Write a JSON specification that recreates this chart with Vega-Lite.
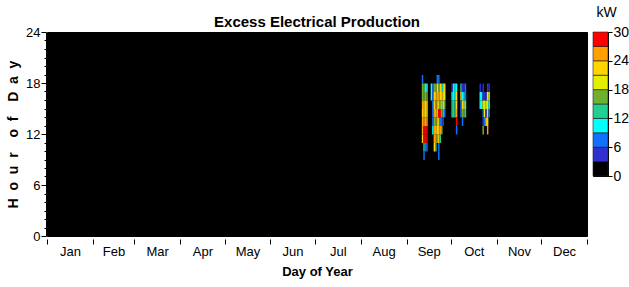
{
  "$schema": "https://vega.github.io/schema/vega-lite/v6.json",
  "autosize": {"type": "pad"},
  "padding": {"left": 6, "top": 5, "right": 1, "bottom": 2},
  "background": "white",
  "spacing": 6,
  "bounds": "flush",
  "config": {
    "view": {"fill": "black", "stroke": "black"},
    "font": "Liberation Sans",
    "axis": {"labelColor": "black", "titleColor": "black", "tickColor": "black", "domainColor": "black", "grid": false},
    "title": {"color": "black"}
  },
  "resolve": {"scale": {"x": "independent", "y": "independent", "color": "shared"}},
  "hconcat": [
    {
      "width": 540,
      "height": 204,
      "title": {"text": "Excess Electrical Production", "fontSize": 15, "fontWeight": "bold", "offset": 1, "dy": 5, "anchor": "middle", "frame": "group"},
      "data": {"values": [
        {"d":253,"h":18,"kW":7.5},{"d":253,"h":17,"kW":16.5},{"d":253,"h":16,"kW":16.5},{"d":253,"h":15,"kW":25.5},{"d":253,"h":14,"kW":22.5},{"d":253,"h":13,"kW":25.5},{"d":253,"h":12,"kW":25.5},{"d":253,"h":11,"kW":22.5},
        {"d":254,"h":17,"kW":16.5},{"d":254,"h":16,"kW":16.5},{"d":254,"h":15,"kW":22.5},{"d":254,"h":14,"kW":22.5},{"d":254,"h":13,"kW":25.5},{"d":254,"h":12,"kW":28.5},{"d":254,"h":11,"kW":28.5},{"d":254,"h":10,"kW":13.5},{"d":254,"h":9,"kW":7.5},
        {"d":255,"h":17,"kW":10.5},{"d":255,"h":16,"kW":16.5},{"d":255,"h":15,"kW":22.5},{"d":255,"h":14,"kW":22.5},{"d":255,"h":13,"kW":25.5},{"d":255,"h":12,"kW":28.5},{"d":255,"h":11,"kW":28.5},{"d":255,"h":10,"kW":7.5},
        {"d":256,"h":17,"kW":10.5},{"d":256,"h":16,"kW":16.5},{"d":256,"h":15,"kW":22.5},{"d":256,"h":14,"kW":22.5},{"d":256,"h":13,"kW":25.5},{"d":256,"h":12,"kW":28.5},{"d":256,"h":11,"kW":28.5},{"d":256,"h":10,"kW":7.5},
        {"d":259,"h":17,"kW":10.5},{"d":259,"h":16,"kW":10.5},
        {"d":260,"h":17,"kW":7.5},{"d":260,"h":16,"kW":7.5},{"d":260,"h":15,"kW":7.5},{"d":260,"h":14,"kW":7.5},{"d":260,"h":13,"kW":7.5},{"d":260,"h":12,"kW":10.5},
        {"d":261,"h":17,"kW":16.5},{"d":261,"h":16,"kW":22.5},{"d":261,"h":15,"kW":22.5},{"d":261,"h":14,"kW":25.5},{"d":261,"h":13,"kW":16.5},{"d":261,"h":12,"kW":25.5},{"d":261,"h":11,"kW":25.5},{"d":261,"h":10,"kW":22.5},
        {"d":262,"h":17,"kW":16.5},{"d":262,"h":16,"kW":22.5},{"d":262,"h":15,"kW":16.5},{"d":262,"h":14,"kW":22.5},{"d":262,"h":13,"kW":16.5},{"d":262,"h":12,"kW":22.5},{"d":262,"h":11,"kW":25.5},{"d":262,"h":10,"kW":13.5},
        {"d":263,"h":18,"kW":7.5},{"d":263,"h":17,"kW":22.5},{"d":263,"h":16,"kW":25.5},{"d":263,"h":15,"kW":25.5},{"d":263,"h":14,"kW":25.5},{"d":263,"h":13,"kW":25.5},{"d":263,"h":12,"kW":22.5},{"d":263,"h":11,"kW":16.5},
        {"d":264,"h":18,"kW":7.5},{"d":264,"h":17,"kW":16.5},{"d":264,"h":16,"kW":25.5},{"d":264,"h":15,"kW":22.5},{"d":264,"h":14,"kW":28.5},{"d":264,"h":13,"kW":22.5},{"d":264,"h":12,"kW":22.5},{"d":264,"h":11,"kW":22.5},{"d":264,"h":10,"kW":7.5},{"d":264,"h":9,"kW":7.5},
        {"d":265,"h":17,"kW":22.5},{"d":265,"h":16,"kW":22.5},{"d":265,"h":15,"kW":16.5},{"d":265,"h":14,"kW":28.5},{"d":265,"h":13,"kW":7.5},{"d":265,"h":12,"kW":25.5},{"d":265,"h":11,"kW":13.5},
        {"d":266,"h":17,"kW":10.5},{"d":266,"h":16,"kW":22.5},{"d":266,"h":15,"kW":10.5},{"d":266,"h":14,"kW":16.5},{"d":266,"h":13,"kW":7.5},{"d":266,"h":12,"kW":16.5},
        {"d":267,"h":17,"kW":10.5},{"d":267,"h":16,"kW":22.5},{"d":267,"h":15,"kW":22.5},{"d":267,"h":14,"kW":16.5},{"d":267,"h":13,"kW":4.5},
        {"d":268,"h":17,"kW":22.5},{"d":268,"h":16,"kW":19.5},{"d":268,"h":15,"kW":16.5},{"d":268,"h":14,"kW":7.5},
        {"d":273,"h":17,"kW":4.5},{"d":273,"h":16,"kW":10.5},{"d":273,"h":15,"kW":13.5},{"d":273,"h":14,"kW":13.5},
        {"d":274,"h":17,"kW":10.5},{"d":274,"h":16,"kW":10.5},{"d":274,"h":15,"kW":13.5},{"d":274,"h":14,"kW":13.5},
        {"d":275,"h":17,"kW":10.5},{"d":275,"h":16,"kW":10.5},{"d":275,"h":15,"kW":13.5},{"d":275,"h":14,"kW":13.5},
        {"d":276,"h":17,"kW":10.5},{"d":276,"h":16,"kW":22.5},{"d":276,"h":15,"kW":22.5},{"d":276,"h":14,"kW":25.5},{"d":276,"h":13,"kW":28.5},{"d":276,"h":12,"kW":7.5},
        {"d":279,"h":17,"kW":13.5},{"d":279,"h":16,"kW":22.5},{"d":279,"h":15,"kW":7.5},{"d":279,"h":14,"kW":7.5},
        {"d":280,"h":17,"kW":4.5},{"d":280,"h":16,"kW":10.5},{"d":280,"h":15,"kW":22.5},{"d":280,"h":14,"kW":16.5},{"d":280,"h":13,"kW":7.5},
        {"d":281,"h":17,"kW":4.5},{"d":281,"h":16,"kW":10.5},{"d":281,"h":15,"kW":22.5},{"d":281,"h":14,"kW":16.5},
        {"d":282,"h":17,"kW":7.5},{"d":282,"h":16,"kW":7.5},{"d":282,"h":15,"kW":10.5},{"d":282,"h":14,"kW":13.5},
        {"d":292,"h":17,"kW":4.5},{"d":292,"h":16,"kW":10.5},{"d":292,"h":15,"kW":10.5},
        {"d":293,"h":16,"kW":10.5},{"d":293,"h":15,"kW":10.5},
        {"d":294,"h":17,"kW":4.5},{"d":294,"h":16,"kW":4.5},{"d":294,"h":15,"kW":19.5},{"d":294,"h":14,"kW":7.5},{"d":294,"h":13,"kW":4.5},{"d":294,"h":12,"kW":16.5},
        {"d":295,"h":16,"kW":4.5},{"d":295,"h":15,"kW":19.5},{"d":295,"h":14,"kW":19.5},{"d":295,"h":13,"kW":7.5},
        {"d":296,"h":16,"kW":4.5},{"d":296,"h":15,"kW":19.5},{"d":296,"h":14,"kW":4.5},{"d":296,"h":13,"kW":22.5},
        {"d":297,"h":17,"kW":4.5},{"d":297,"h":16,"kW":19.5},{"d":297,"h":15,"kW":19.5},{"d":297,"h":14,"kW":19.5},{"d":297,"h":13,"kW":22.5},{"d":297,"h":12,"kW":25.5},
        {"d":298,"h":17,"kW":4.5},{"d":298,"h":16,"kW":19.5},{"d":298,"h":15,"kW":10.5},{"d":298,"h":14,"kW":7.5}
      ]},
      "mark": {"type": "rect"},
      "encoding": {
        "x": {
          "field": "d", "type": "quantitative",
          "bin": {"step": 1, "extent": [0, 365]},
          "scale": {"domain": [0, 365]},
          "axis": {
            "title": "Day of Year", "titleFontSize": 13, "titleFontWeight": "bold", "titlePadding": 7,
            "values": [0,15.5,31,45,59,74.5,90,105,120,135.5,151,166,181,196.5,212,227.5,243,258,273,288.5,304,319,334,349.5,365],
            "labelExpr": "indexof([15.5,45,74.5,105,135.5,166,196.5,227.5,258,288.5,319,349.5], datum.value) >= 0 ? ['Jan','Feb','Mar','Apr','May','Jun','Jul','Aug','Sep','Oct','Nov','Dec'][indexof([15.5,45,74.5,105,135.5,166,196.5,227.5,258,288.5,319,349.5], datum.value)] : ''",
            "tickOpacity": {"condition": {"test": "indexof([0,31,59,90,120,151,181,212,243,273,304,334,365], datum.value) >= 0", "value": 1}, "value": 0},
            "tickSize": 5, "offset": 3, "domain": false, "labelFontSize": 13, "labelPadding": 1,
            "labelFlush": false, "labelOverlap": false
          }
        },
        "y": {
          "field": "h", "type": "quantitative",
          "bin": {"step": 1, "extent": [0, 24]},
          "scale": {"domain": [0, 24]},
          "axis": {
            "title": "H\u00a0 o\u00a0 u\u00a0 r\u2002\u00a0 o\u00a0 f\u2002\u00a0 D\u00a0 a\u00a0 y", "titleFontSize": 14, "titleFontWeight": "bold", "titlePadding": 5,
            "values": [0,1,2,3,4,5,6,7,8,9,10,11,12,13,14,15,16,17,18,19,20,21,22,23,24],
            "labelExpr": "datum.value % 6 === 0 ? datum.label : ''",
            "tickSize": {"condition": {"test": "datum.value % 6 === 0", "value": 5}, "value": 2},
            "offset": 1, "labelFontSize": 13, "labelPadding": 1, "labelFlush": false, "labelOverlap": false
          }
        },
        "color": {
          "field": "kW", "type": "quantitative",
          "scale": {"type": "quantize", "domain": [0, 30], "range": ["#000000","#3030d0","#1070ff","#00ffff","#20d090","#70b030","#e4ee00","#ffd400","#ffa000","#ff0000"]},
          "legend": null
        }
      }
    },
    {
      "width": 15,
      "height": 144,
      "title": {"text": "kW", "fontSize": 14, "fontWeight": "normal", "offset": 5, "anchor": "middle", "dx": 6},
      "data": {"values": [
        {"lo":0,"hi":3,"kW":1.5},{"lo":3,"hi":6,"kW":4.5},{"lo":6,"hi":9,"kW":7.5},{"lo":9,"hi":12,"kW":10.5},{"lo":12,"hi":15,"kW":13.5},
        {"lo":15,"hi":18,"kW":16.5},{"lo":18,"hi":21,"kW":19.5},{"lo":21,"hi":24,"kW":22.5},{"lo":24,"hi":27,"kW":25.5},{"lo":27,"hi":30,"kW":28.5}
      ]},
      "mark": {"type": "rect", "stroke": "#222222", "strokeWidth": 0.6},
      "encoding": {
        "x": {"datum": 0, "type": "quantitative", "scale": {"domain": [0, 1]}, "axis": null},
        "x2": {"datum": 1},
        "y": {
          "field": "lo", "type": "quantitative", "scale": {"domain": [0, 30]},
          "axis": {"orient": "right", "title": null, "values": [0,6,12,18,24,30], "domain": false, "tickSize": 4,
                   "labelFontSize": 14, "labelPadding": 1, "labelFlush": false, "labelOverlap": false}
        },
        "y2": {"field": "hi"},
        "color": {
          "field": "kW", "type": "quantitative",
          "scale": {"type": "quantize", "domain": [0, 30], "range": ["#000000","#3030d0","#1070ff","#00ffff","#20d090","#70b030","#e4ee00","#ffd400","#ffa000","#ff0000"]},
          "legend": null
        }
      }
    }
  ]
}
